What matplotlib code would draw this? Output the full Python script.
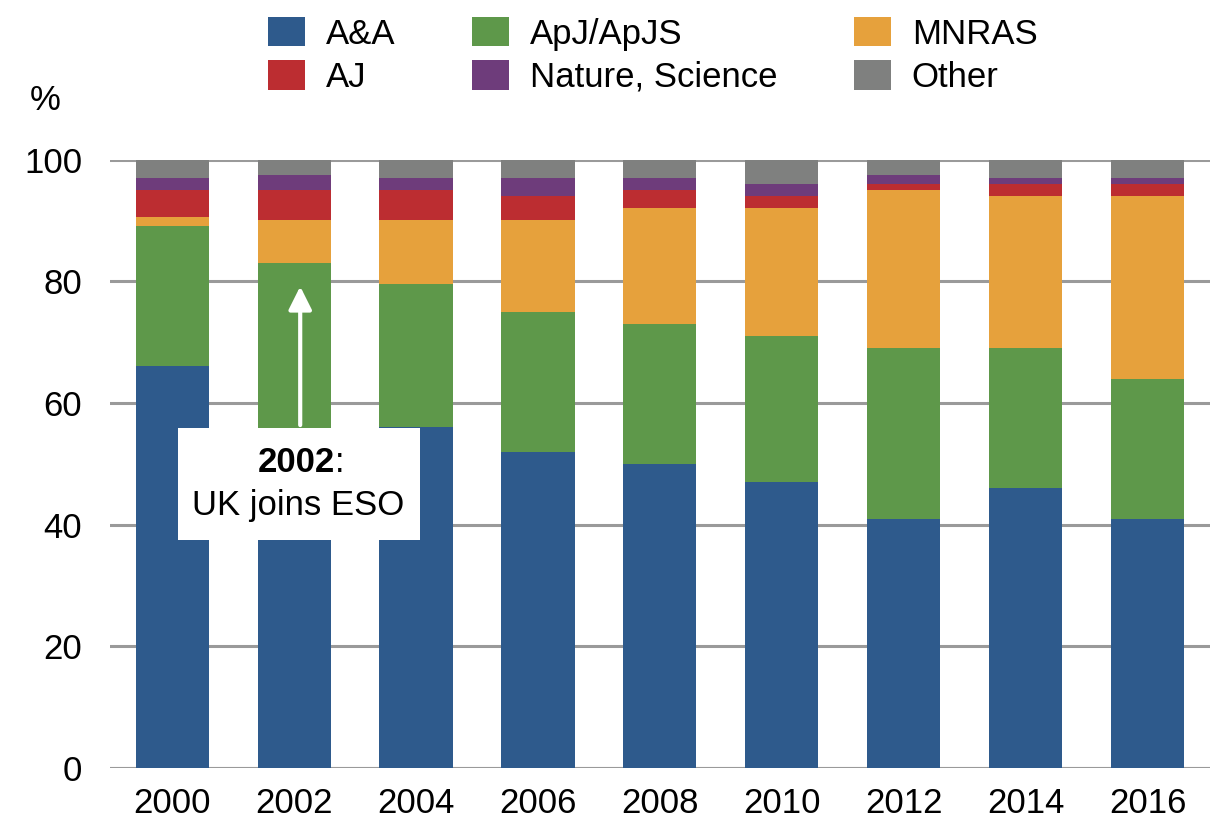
import numpy as np
import matplotlib
matplotlib.use("Agg")
import matplotlib.pyplot as plt
from matplotlib.patches import Rectangle

plt.rcParams['font.family'] = ['Liberation Sans', 'DejaVu Sans']

years = ['2000', '2002', '2004', '2006', '2008', '2010', '2012', '2014', '2016']
aa      = [66, 55, 56, 52, 50, 47, 41, 46, 41]
apj     = [23, 28, 23.5, 23, 23, 24, 28, 23, 23]
mnras   = [1.5, 7, 10.5, 15, 19, 21, 26, 25, 30]
aj      = [4.5, 5, 5, 4, 3, 2, 1, 2, 2]
natsci  = [2, 2.5, 2, 3, 2, 2, 1.5, 1, 1]
other   = [3, 2.5, 3, 3, 3, 4, 2.5, 3, 3]

series = [('A&A', aa, '#2e5a8c'),
          ('ApJ/ApJS', apj, '#5e984a'),
          ('MNRAS', mnras, '#e6a13c'),
          ('AJ', aj, '#bc2d31'),
          ('Nature, Science', natsci, '#6e3c7b'),
          ('Other', other, '#7f807f')]

fig = plt.figure(figsize=(12.17, 8.33), dpi=100)
ax = fig.add_axes([0.0904, 0.078, 0.9036, 0.7305])

x = np.arange(len(years))
bottom = np.zeros(len(years))
handles = {}
for name, vals, col in series:
    b = ax.bar(x, vals, width=0.6, bottom=bottom, color=col, zorder=3, linewidth=0)
    handles[name] = b
    bottom += np.array(vals)

ax.set_xlim(-0.51, 8.51)
ax.set_ylim(0, 100)
ax.set_yticks([0, 20, 40, 60, 80, 100])
ax.set_xticks(x)
ax.set_xticklabels(years)
ax.tick_params(axis='both', length=0, labelsize=25)
ax.tick_params(axis='y', pad=20)
ax.tick_params(axis='x', pad=14)
ax.yaxis.grid(True, color='#9a9a9a', linewidth=2.2, zorder=0)
for s in ax.spines.values():
    s.set_visible(False)
ax.axhline(0, color='#9a9a9a', linewidth=2.2, zorder=1)

fig.text(45 / 1217, 1 - 100 / 833, '%', fontsize=25, ha='center', va='center')

# legend, filled column-wise
order = ['A&A', 'AJ', 'ApJ/ApJS', 'Nature, Science', 'MNRAS', 'Other']
fig.legend([handles[n] for n in order], order, ncol=3, loc='upper left',
           bbox_to_anchor=(268 / 1217, 1 - 17 / 833), frameon=False, fontsize=25,
           handlelength=1.07, handleheight=0.92, handletextpad=0.6,
           columnspacing=2.2, labelspacing=0.28, borderpad=0, borderaxespad=0)

# annotation box
ax.add_patch(Rectangle((0.05, 37.5), 1.98, 18.4, facecolor='white', edgecolor='none', zorder=5))
ax.annotate('', xy=(1.05, 79.6), xytext=(1.05, 55.9),
            arrowprops=dict(arrowstyle='-|>', color='white', lw=3, mutation_scale=35), zorder=6)
ax.text(1.336, 50.2, '2002', fontsize=25, fontweight='bold', ha='right', va='center', zorder=6)
ax.text(1.336, 50.2, ':', fontsize=25, ha='left', va='center', zorder=6)
ax.text(1.03, 43.2, 'UK joins ESO', fontsize=25, ha='center', va='center', zorder=6)

fig.savefig('out.png', dpi=100)
